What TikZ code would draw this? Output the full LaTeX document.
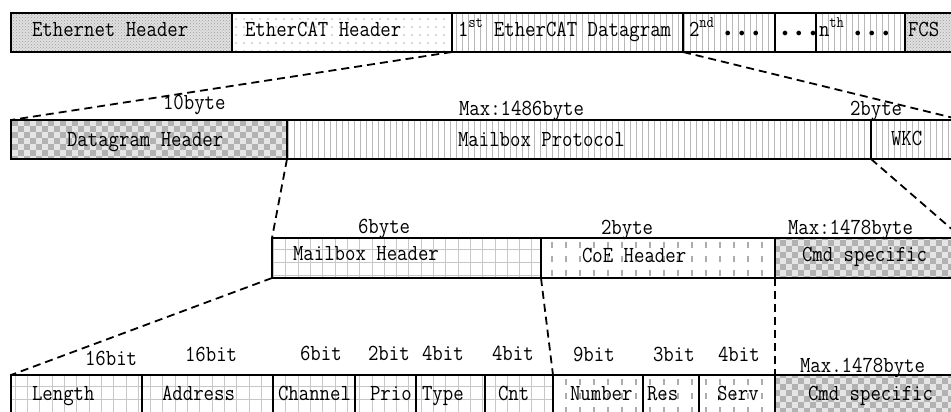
\documentclass[tikz,border=0pt]{standalone}
\usepackage{fontspec}
\usetikzlibrary{patterns}
\newfontfamily\fieldfont[FakeStretch=0.88]{Latin Modern Mono}

\tikzset{
  fbox/.style={draw=black, line width=2.2pt, rectangle, inner sep=0pt, outer sep=0pt},
  lbl/.style={anchor=base west, inner sep=0pt, outer sep=0pt, text=black,
              font=\fieldfont\fontsize{23}{26}\selectfont},
  zoomline/.style={draw=black, line width=1.8pt, dash pattern=on 8pt off 5pt},
  vline/.style={draw=black!28, line width=0.9pt},
  gridline/.style={draw=black!22, line width=0.9pt},
  dashcol/.style={draw=black!32, line width=1.3pt, dash pattern=on 6pt off 8pt},
}

% ---- fill textures (x1, y1, x2, y2 in pixel units) ----
\newcommand\patVlines[4]{%
  \pgfmathtruncatemacro\ia{#1/6}\pgfmathtruncatemacro\ib{#3/6+1}%
  \foreach \i in {\ia,...,\ib}{\draw[vline] (\i*6,#2) -- (\i*6,#4);}}

\newcommand\patGrid[4]{%
  \pgfmathtruncatemacro\ia{#1/12.3}\pgfmathtruncatemacro\ib{#3/12.3+1}%
  \foreach \i in {\ia,...,\ib}{\draw[gridline] (\i*12.3+3,#2) -- (\i*12.3+3,#4);}%
  \foreach \k in {0,1,2}{\draw[gridline] (#1,#2+11+\k*13) -- (#3,#2+11+\k*13);}}

\newcommand\patChecker[4]{%
  \fill[black!10] (#1,#2) rectangle (#3,#4);
  \pgfmathtruncatemacro\ia{#1/6}\pgfmathtruncatemacro\ib{#3/6+1}%
  \pgfmathtruncatemacro\ja{#2/6}\pgfmathtruncatemacro\jb{#4/6+1}%
  \foreach \i in {\ia,...,\ib}{\foreach \j in {\ja,...,\jb}{%
    \pgfmathtruncatemacro\p{mod(\i+\j,2)}%
    \ifnum\p=0 \fill[black!30] (\i*6,\j*6) rectangle ++(6,6);\fi}}}

\newcommand\patStipple[4]{%
  \fill[black!12] (#1,#2) rectangle (#3,#4);
  \fill[pattern=crosshatch dots, pattern color=black!38] (#1,#2) rectangle (#3,#4);}

\newcommand\patDots[4]{%
  \pgfmathtruncatemacro\ia{#1/8}\pgfmathtruncatemacro\ib{#3/8+1}%
  \pgfmathtruncatemacro\ja{#2/8}\pgfmathtruncatemacro\jb{#4/8+1}%
  \foreach \i in {\ia,...,\ib}{\foreach \j in {\ja,...,\jb}{%
    \fill[black!30] (\i*8+4,\j*8+3) circle[radius=0.8pt];}}}

\newcommand\patDashCols[4]{%
  \pgfmathtruncatemacro\ia{#1/14}\pgfmathtruncatemacro\ib{#3/14+1}%
  \foreach \i in {\ia,...,\ib}{\draw[dashcol] (\i*14+6,#2+4) -- (\i*14+6,#4);}}

% texture clipped to a field
\newcommand\fieldfill[5]{\begin{scope}\clip (#2,#3) rectangle (#4,#5); #1{#2}{#3}{#4}{#5}\end{scope}}

% outlined field node: name, x1, y1, x2, y2
\newcommand\fieldbox[5]{%
  \pgfmathsetmacro\fw{#4-#2}\pgfmathsetmacro\fh{#5-#3}%
  \node[fbox, minimum width=\fw pt, minimum height=\fh pt, anchor=north west] (#1) at (#2,#3) {};}

\newcommand\tdots{\ensuremath{{\scriptscriptstyle\bullet}\kern8pt{\scriptscriptstyle\bullet}\kern8pt{\scriptscriptstyle\bullet}}}

\begin{document}
\begin{tikzpicture}[x=1pt,y=-1pt]
\useasboundingbox (0,0) rectangle (951,412);
\clip (0,0) rectangle (951,412);

% ---------- textures ----------
% frame
\fieldfill\patStipple{11}{13}{232}{52}
\fieldfill\patDots{232}{13}{452}{52}
\fieldfill\patVlines{452}{13}{683}{52}
\fieldfill\patVlines{683}{13}{775}{52}
\fieldfill\patVlines{816}{13}{905}{52}
\fieldfill\patStipple{905}{13}{962}{52}
% datagram
\fieldfill\patChecker{11}{120}{287}{159}
\fieldfill\patVlines{287}{120}{871}{159}
\fieldfill\patVlines{871}{120}{962}{159}
% mailbox
\fieldfill\patGrid{272}{238}{541}{278}
\fieldfill\patDashCols{541}{238}{775}{278}
\fieldfill\patChecker{775}{238}{962}{278}
% header bits
\fieldfill\patGrid{11}{375}{553}{416}
\fieldfill\patDashCols{553}{375}{775}{416}
\fieldfill\patChecker{775}{375}{962}{416}

% ---------- fields ----------
\fieldbox{eth}{11}{13}{232}{52}
\fieldbox{ecat}{232}{13}{452}{52}
\fieldbox{dg1}{452}{13}{683}{52}
\fieldbox{dg2}{683}{13}{775}{52}
\fieldbox{dgdots}{775}{13}{816}{52}
\fieldbox{dgn}{816}{13}{905}{52}
\fieldbox{fcs}{905}{13}{962}{52}

\fieldbox{dghdr}{11}{120}{287}{159}
\fieldbox{mbx}{287}{120}{871}{159}
\fieldbox{wkc}{871}{120}{962}{159}

\fieldbox{mbhdr}{272}{238}{541}{278}
\fieldbox{coe}{541}{238}{775}{278}
\fieldbox{cmdA}{775}{238}{962}{278}

\fieldbox{len}{11}{375}{142}{416}
\fieldbox{addr}{142}{375}{273}{416}
\fieldbox{chan}{273}{375}{355}{416}
\fieldbox{prio}{355}{375}{416}{416}
\fieldbox{type}{416}{375}{485}{416}
\fieldbox{cnt}{485}{375}{553}{416}
\fieldbox{num}{553}{375}{643}{416}
\fieldbox{res}{643}{375}{699}{416}
\fieldbox{serv}{699}{375}{775}{416}
\fieldbox{cmdB}{775}{375}{962}{416}

% ---------- zoom connectors ----------
\draw[zoomline] (ecat.south east) -- (dghdr.north west);
\draw[zoomline] (dg1.south east) -- (wkc.north east);
\draw[zoomline] (dghdr.south east) -- (mbhdr.north west);
\draw[zoomline] (wkc.south west) -- (cmdA.north east);
\draw[zoomline] (mbhdr.south west) -- (len.north west);
\draw[zoomline] (coe.south west) -- (num.north west);
\draw[zoomline] (cmdA.south west) -- (cmdB.north west);

% ---------- texts ----------
\node[lbl] (t-eth) at (32,37) {Ethernet Header};
\node[lbl] (t-ecat) at (245,37) {EtherCAT Header};
\node[lbl] (t-dg1) at (458,37) {1\textsuperscript{st} EtherCAT Datagram};
\node[lbl] (t-dg2) at (689,37) {2\textsuperscript{nd}\ \tdots};
\node[lbl] (t-dots) at (782,37) {\tdots};
\node[lbl] (t-dgn) at (819,37) {n\textsuperscript{th}\ \tdots};
\node[lbl] (t-fcs) at (908,37) {FCS};

\node[lbl] (s-dghdr) at (163,110) {10byte};
\node[lbl] (s-mbx) at (459,115) {Max:1486byte};
\node[lbl] (s-wkc) at (850,115) {2byte};
\node[lbl] (t-dghdr) at (67,146) {Datagram Header};
\node[lbl] (t-mbx) at (458,146) {Mailbox Protocol};
\node[lbl] (t-wkc) at (891,145) {WKC};

\node[lbl] (s-mbhdr) at (358,233) {6byte};
\node[lbl] (s-coe) at (601,234) {2byte};
\node[lbl] (s-cmdA) at (788,234) {Max:1478byte};
\node[lbl] (t-mbhdr) at (293,260) {Mailbox Header};
\node[lbl] (t-coe) at (582,262) {CoE Header};
\node[lbl] (t-cmdA) at (802,261) {Cmd specific};

\node[lbl] (s-len) at (85,365) {16bit};
\node[lbl] (s-addr) at (185,361) {16bit};
\node[lbl] (s-chan) at (300,360) {6bit};
\node[lbl] (s-prio) at (368,360) {2bit};
\node[lbl] (s-type) at (422,360) {4bit};
\node[lbl] (s-cnt) at (492,360) {4bit};
\node[lbl] (s-num) at (573,361) {9bit};
\node[lbl] (s-res) at (653,361) {3bit};
\node[lbl] (s-serv) at (718,361) {4bit};
\node[lbl] (s-cmdB) at (800,372) {Max.1478byte};

\node[lbl] (t-len) at (32,400) {Length};
\node[lbl] (t-addr) at (162,400) {Address};
\node[lbl] (t-chan) at (278,400) {Channel};
\node[lbl] (t-prio) at (370,400) {Prio};
\node[lbl] (t-type) at (422,400) {Type};
\node[lbl] (t-cnt) at (498,400) {Cnt};
\node[lbl] (t-num) at (570,400) {Number};
\node[lbl] (t-res) at (647,400) {Res};
\node[lbl] (t-serv) at (717,400) {Serv};
\node[lbl] (t-cmdB) at (808,400) {Cmd specific};
\end{tikzpicture}
\end{document}
